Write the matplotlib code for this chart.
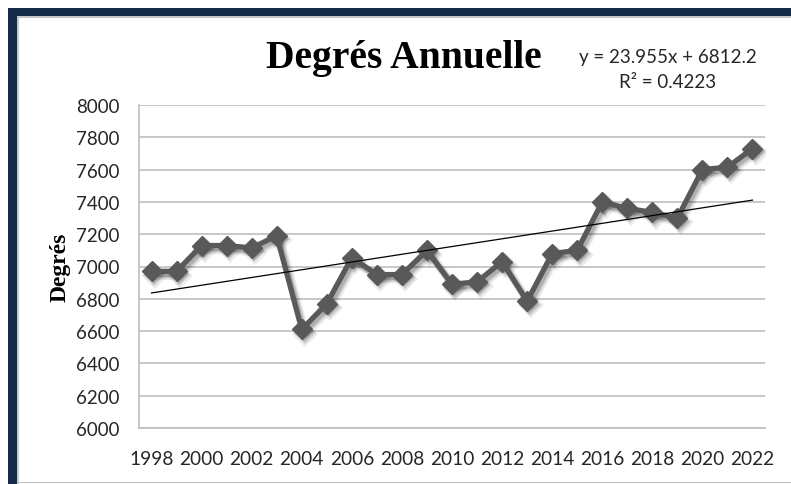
import matplotlib
matplotlib.use("Agg")
import matplotlib.pyplot as plt
import matplotlib.transforms as mtransforms
from matplotlib.patches import Rectangle
import numpy as np

years = [1998, 1999, 2000, 2001, 2002, 2003, 2004, 2005, 2006, 2007, 2008, 2009,
         2010, 2011, 2012, 2013, 2014, 2015, 2016, 2017, 2018, 2019, 2020, 2021, 2022]
degres = [6970, 6970, 7130, 7130, 7115, 7190, 6610, 6770, 7055, 6950, 6950, 7100,
          6890, 6905, 7030, 6785, 7080, 7100, 7400, 7360, 7335, 7300, 7600, 7615, 7730]
xtick_labels = [str(y) for y in range(1998, 2023, 2)]
yticks = list(range(6000, 8001, 200))
slope, intercept = 23.955, 6812.2
title = "Degrés Annuelle"
eq_text = "y = 23.955x + 6812.2"
r2_text = "R² = 0.4223"

W, H = 791, 485
fig = plt.figure(figsize=(W / 100, H / 100), dpi=100)
fig.patch.set_facecolor("white")

def fx(px):
    return px / W

def fy(py):
    return 1 - py / H

# frame decorations
navy = "#152a47"
fig.patches.append(Rectangle((fx(8), fy(17)), fx(791 - 8), 8 / H, transform=fig.transFigure,
                             facecolor=navy, edgecolor="none", zorder=0))
fig.patches.append(Rectangle((fx(8), fy(485)), fx(9), (485 - 9) / H, transform=fig.transFigure,
                             facecolor=navy, edgecolor="none", zorder=0))
fig.patches.append(Rectangle((fx(17), fy(19)), fx(791 - 17), 2 / H, transform=fig.transFigure,
                             facecolor="#c8c8c8", edgecolor="none", zorder=0))
fig.patches.append(Rectangle((fx(17), fy(485)), fx(2), (485 - 19) / H, transform=fig.transFigure,
                             facecolor="#c8c8c8", edgecolor="none", zorder=0))
fig.patches.append(Rectangle((fx(19), fy(484)), fx(791 - 19), 1.5 / H, transform=fig.transFigure,
                             facecolor="#bdbdbd", edgecolor="none", zorder=0))

ax = fig.add_axes([fx(139), fy(429), fx(765 - 139), (429 - 106) / H])
ax.set_facecolor("none")

x = np.array(years)

# soft shadow layers
for (dx, dy, lw, ms, a) in [(2.5, -3.0, 6.5, 13, 0.08), (2.0, -2.5, 5.0, 11.5, 0.12), (1.5, -2.0, 4.0, 10.5, 0.15)]:
    tr = mtransforms.offset_copy(ax.transData, fig=fig, x=dx, y=dy, units="points")
    ax.plot(x, degres, color="black", alpha=a, lw=lw, marker="D", markersize=ms,
            markeredgewidth=0, transform=tr, zorder=2, solid_joinstyle="round")

ax.plot(x, degres, color="#595959", lw=3.8, marker="D", markersize=10.5,
        markeredgecolor="#595959", markerfacecolor="#595959", zorder=3)

idx = np.arange(1, len(years) + 1)
trend = slope * idx + intercept
ax.plot(x, trend, color="black", lw=0.9, zorder=4)

ax.set_xlim(1997.5, 2022.5)
ax.set_ylim(6000, 8000)
ax.set_yticks(yticks)
ax.set_xticks(list(range(1998, 2023, 2)))
ax.set_xticklabels(xtick_labels)
ax.grid(axis="y", color="#c8c8c8", lw=1.4)
ax.set_axisbelow(True)
for s in ["top", "right"]:
    ax.spines[s].set_visible(False)
ax.spines["left"].set_color("#bdbdbd")
ax.spines["bottom"].set_color("#bdbdbd")
ax.spines["left"].set_linewidth(1.2)
ax.spines["bottom"].set_linewidth(1.2)
ax.tick_params(axis="both", length=0, colors="#262626")
ax.tick_params(axis="y", pad=14, labelsize=13.5)
ax.tick_params(axis="x", pad=16, labelsize=13.8)
for lab in ax.get_xticklabels() + ax.get_yticklabels():
    lab.set_fontfamily("Lato")

fig.text(fx(404), fy(68), title, ha="center", va="baseline", fontsize=28.5,
         fontweight="bold", family="Liberation Serif", color="black")
fig.text(fx(668), fy(58), eq_text, ha="center", va="center", fontsize=13.5,
         family="Lato", color="#262626")
fig.text(fx(668), fy(82), r2_text, ha="center", va="center", fontsize=13.5,
         family="Lato", color="#262626")
fig.text(fx(60), fy(267), "Degrés", ha="center", va="center", rotation=90,
         fontsize=17, fontweight="bold", family="Liberation Serif", color="black")

fig.savefig("out.png", dpi=100, facecolor="white")
